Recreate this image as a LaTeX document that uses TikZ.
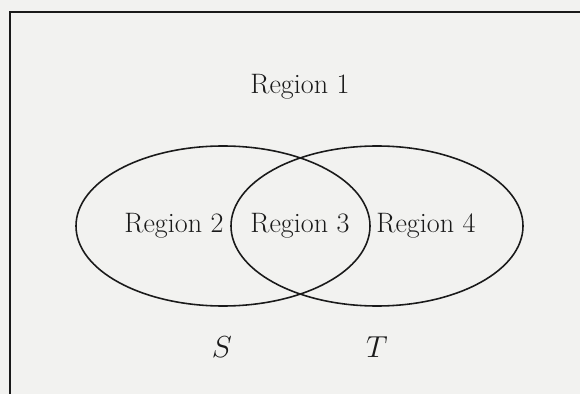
\documentclass[tikz,border=0pt]{standalone}
\usepackage{tikz}
\definecolor{scanpaper}{HTML}{F2F2F0}
\definecolor{scanink}{HTML}{1A1A1A}

\begin{document}
\begin{tikzpicture}[x=0.02cm, y=-0.02cm,
        setline/.style={draw=scanink, line width=0.9pt},
        frame/.style={draw=scanink, line width=1.2pt},
        region/.style={text=scanink, font=\fontsize{16}{19}\selectfont},
        setname/.style={region, font=\fontsize{16}{19}\selectfont\itshape}
      ]
        \clip (0,0) rectangle (580,394);
        \fill[scanpaper] (0,0) rectangle (580,394);
        \draw[frame] (10,404) -- (10,12) -- (600,12);

        \draw[setline] (223,226) ellipse [x radius=147, y radius=80];
        \draw[setline] (377,226) ellipse [x radius=146, y radius=80];

        \node[region] (r1) at (300,87)  {Region 1};
        \node[region] (r2) at (174,226) {Region 2};
        \node[region] (r3) at (300,226) {Region 3};
        \node[region] (r4) at (426,226) {Region 4};
        \node[setname] (s) at (222,347) {$S$};
        \node[setname] (t) at (377,347) {$T$};
      \end{tikzpicture}
\end{document}
